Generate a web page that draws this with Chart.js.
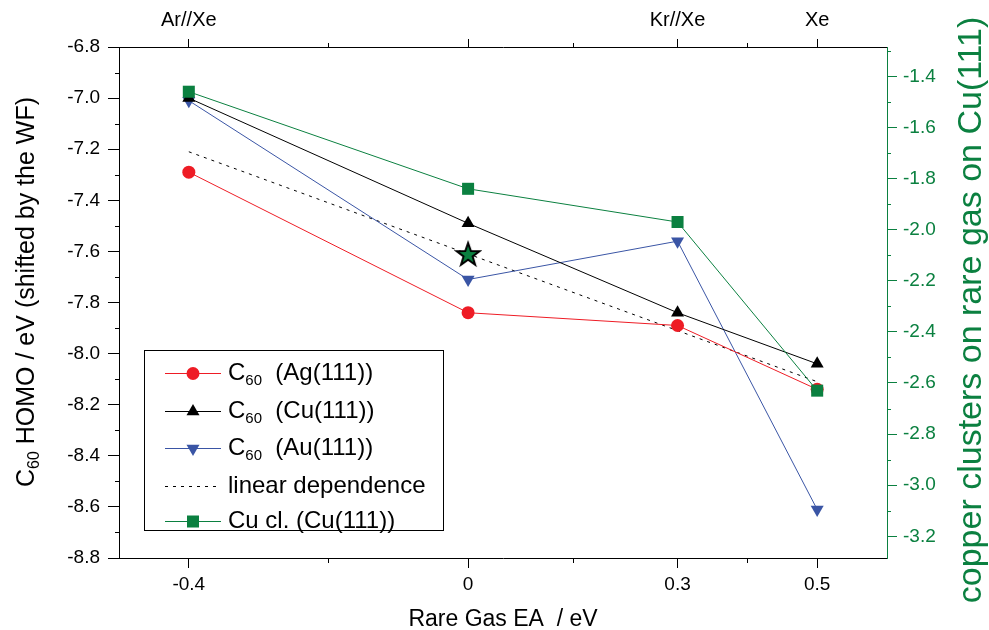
<!DOCTYPE html>
<html>
<head>
<meta charset="utf-8">
<script src="https://cdn.jsdelivr.net/npm/chart.js@4.4.1/dist/chart.umd.min.js"></script>
<style>
  html, body { margin: 0; padding: 0; background: #ffffff; }
  #wrap { width: 989px; height: 630px; position: relative; }
</style>
</head>
<body>
<div id="wrap"><canvas id="c"></canvas></div>
<script>
// Rare gas electron affinity (eV) and the substrate labels on the top axis
const rareGasEA = [-0.4, 0, 0.3, 0.5];
const topLabels = ['Ar//Xe', '', 'Kr//Xe', 'Xe'];
const minorEA = [-0.2, 0.15, 0.4];

// C60 HOMO positions (eV, shifted by the work function)
const homoAg = [-7.29, -7.84, -7.89, -8.14];
const homoCu = [-7.00, -7.49, -7.84, -8.04];
const homoAu = [-7.01, -7.71, -7.56, -8.61];

// Linear dependence (slope -1) and its value at EA = 0
const linearEA = [-0.4, 0.5];
const linearHomo = [-7.21, -8.11];
const starEA = [0];
const starHomo = [-7.61];

// Copper clusters on rare gas on Cu(111), right axis
const cuClusters = [-1.46, -1.84, -1.97, -2.63];

// Axis ticks
const leftTicks = [-8.8, -8.6, -8.4, -8.2, -8.0, -7.8, -7.6, -7.4, -7.2, -7.0, -6.8];
const leftMinor = [-8.7, -8.5, -8.3, -8.1, -7.9, -7.7, -7.5, -7.3, -7.1, -6.9];
const rightTicks = [-3.2, -3.0, -2.8, -2.6, -2.4, -2.2, -2.0, -1.8, -1.6, -1.4];
const rightMinor = [-3.1, -2.9, -2.7, -2.5, -2.3, -2.1, -1.9, -1.7, -1.5, -1.3];

const RED = '#ee1c25';
const BLACK = '#000000';
const BLUE = '#3a55a5';
const GREEN = '#0b8040';
const FONT = '"Liberation Sans", Arial, sans-serif';

const pts = (xs, ys) => xs.map((x, i) => ({ x: x, y: ys[i] }));

// five-pointed star marker
function makeStar() {
  const c = document.createElement('canvas');
  c.width = 28; c.height = 28;
  const g = c.getContext('2d');
  g.beginPath();
  for (let i = 0; i < 10; i++) {
    const r = i % 2 === 0 ? 12 : 4.8;
    const a = -Math.PI / 2 + i * Math.PI / 5;
    const px = 14 + r * Math.cos(a), py = 15 + r * Math.sin(a);
    if (i === 0) g.moveTo(px, py); else g.lineTo(px, py);
  }
  g.closePath();
  g.fillStyle = GREEN;
  g.fill();
  g.lineWidth = 2;
  g.strokeStyle = BLACK;
  g.lineJoin = 'miter';
  g.stroke();
  return c;
}

function fixedTicks(values) {
  return function (scale) { scale.ticks = values.map(v => ({ value: v })); };
}

// minor ticks on all four sides
const minorTicks = {
  id: 'minorTicks',
  afterDraw(chart) {
    const ctx = chart.ctx, a = chart.chartArea, s = chart.scales;
    ctx.save();
    ctx.lineWidth = 1;
    ctx.strokeStyle = BLACK;
    ctx.beginPath();
    minorEA.forEach(v => {
      const x = Math.round(s.x.getPixelForValue(v)) + 0.5;
      ctx.moveTo(x, a.bottom); ctx.lineTo(x, a.bottom + 5);
      ctx.moveTo(x, a.top); ctx.lineTo(x, a.top - 4);
    });
    leftMinor.forEach(v => {
      const y = Math.round(s.y.getPixelForValue(v)) + 0.5;
      ctx.moveTo(a.left, y); ctx.lineTo(a.left - 4, y);
    });
    ctx.stroke();
    ctx.strokeStyle = GREEN;
    ctx.beginPath();
    rightMinor.forEach(v => {
      const y = Math.round(s.y2.getPixelForValue(v)) + 0.5;
      ctx.moveTo(a.right, y); ctx.lineTo(a.right + 4, y);
    });
    ctx.stroke();
    ctx.restore();
  }
};

function drawMarker(ctx, style, x, y, color) {
  ctx.fillStyle = color;
  ctx.beginPath();
  if (style === 'circle') {
    ctx.arc(x, y, 6.5, 0, Math.PI * 2);
  } else if (style === 'up') {
    ctx.moveTo(x, y - 7.5); ctx.lineTo(x + 6.5, y + 3.75); ctx.lineTo(x - 6.5, y + 3.75);
  } else if (style === 'down') {
    ctx.moveTo(x, y + 7.5); ctx.lineTo(x + 6.5, y - 3.75); ctx.lineTo(x - 6.5, y - 3.75);
  } else if (style === 'square') {
    ctx.rect(x - 6, y - 6, 12, 12);
  }
  ctx.closePath();
  ctx.fill();
}

function drawSubText(ctx, x, y, main, sub, rest, size) {
  ctx.font = size + 'px ' + FONT;
  ctx.fillText(main, x, y);
  x += ctx.measureText(main).width;
  if (sub) {
    const ss = Math.round(size * 0.62);
    ctx.font = ss + 'px ' + FONT;
    ctx.fillText(sub, x, y + size * 0.32);
    x += ctx.measureText(sub).width;
    ctx.font = size + 'px ' + FONT;
  }
  ctx.fillText(rest, x, y);
}

// boxed legend with subscripted labels
const boxLegend = {
  id: 'boxLegend',
  afterDraw(chart) {
    const ctx = chart.ctx, a = chart.chartArea;
    const bx = a.left + 25.5, by = 350.5, bw = 299, bh = 180;
    ctx.save();
    ctx.fillStyle = '#ffffff';
    ctx.fillRect(bx, by, bw, bh);
    ctx.strokeStyle = BLACK;
    ctx.lineWidth = 1;
    ctx.strokeRect(bx, by, bw, bh);
    const rows = [
      { c: RED, m: 'circle', main: 'C', sub: '60', rest: '  (Ag(111))' },
      { c: BLACK, m: 'up', main: 'C', sub: '60', rest: '  (Cu(111))' },
      { c: BLUE, m: 'down', main: 'C', sub: '60', rest: '  (Au(111))' },
      { c: BLACK, m: 'dash', main: 'linear dependence', sub: '', rest: '' },
      { c: GREEN, m: 'square', main: 'Cu cl. (Cu(111))', sub: '', rest: '' }
    ];
    const ys = [373, 411, 448, 486, 521];
    rows.forEach((r, i) => {
      const y = ys[i];
      ctx.strokeStyle = r.c;
      ctx.lineWidth = 1;
      ctx.setLineDash(r.m === 'dash' ? [3, 5] : []);
      ctx.beginPath();
      ctx.moveTo(165, y + 0.5); ctx.lineTo(221, y + 0.5);
      ctx.stroke();
      ctx.setLineDash([]);
      if (r.m !== 'dash') drawMarker(ctx, r.m, 193, y + 0.5, r.c);
      ctx.fillStyle = BLACK;
      ctx.textBaseline = 'middle';
      ctx.textAlign = 'left';
      drawSubText(ctx, 228, y, r.main, r.sub, r.rest, 24);
    });
    ctx.restore();
  }
};

// axis titles
const axisTitles = {
  id: 'axisTitles',
  afterDraw(chart) {
    const ctx = chart.ctx, a = chart.chartArea;
    ctx.save();
    ctx.textBaseline = 'middle';
    // bottom
    ctx.fillStyle = BLACK;
    ctx.textAlign = 'center';
    ctx.font = '23px ' + FONT;
    ctx.fillText('Rare Gas EA  / eV', (a.left + a.right) / 2, 620);
    // left, with subscript
    ctx.save();
    ctx.translate(27, 292);
    ctx.rotate(-Math.PI / 2);
    const size = 25;
    ctx.font = size + 'px ' + FONT;
    const wMain = ctx.measureText('C').width;
    const wRest = ctx.measureText(' HOMO / eV (shifted by the WF)').width;
    ctx.font = Math.round(size * 0.62) + 'px ' + FONT;
    const wSub = ctx.measureText('60').width;
    ctx.textAlign = 'left';
    drawSubText(ctx, -(wMain + wSub + wRest) / 2, 0, 'C', '60', ' HOMO / eV (shifted by the WF)', size);
    ctx.restore();
    // right
    ctx.save();
    ctx.translate(972, 310);
    ctx.rotate(-Math.PI / 2);
    ctx.fillStyle = GREEN;
    ctx.textAlign = 'center';
    ctx.font = '34px ' + FONT;
    ctx.fillText('copper clusters on rare gas on Cu(111)', 0, 0);
    ctx.restore();
    ctx.restore();
  }
};

const tickFont = { family: FONT, size: 19 };

new Chart(document.getElementById('c'), {
  type: 'line',
  data: {
    datasets: [
      { label: 'star', data: pts(starEA, starHomo), yAxisID: 'y', showLine: false,
        pointStyle: makeStar(), order: 0 },
      { label: 'Cu cl. (Cu(111))', data: pts(rareGasEA, cuClusters), yAxisID: 'y2',
        borderColor: GREEN, backgroundColor: GREEN, borderWidth: 1,
        pointStyle: 'rect', pointRadius: 8.5, pointBorderWidth: 0, order: 1 },
      { label: 'C60 (Ag(111))', data: pts(rareGasEA, homoAg), yAxisID: 'y',
        borderColor: RED, backgroundColor: RED, borderWidth: 1,
        pointStyle: 'circle', pointRadius: 6.5, pointBorderWidth: 0, order: 2 },
      { label: 'C60 (Cu(111))', data: pts(rareGasEA, homoCu), yAxisID: 'y',
        borderColor: BLACK, backgroundColor: BLACK, borderWidth: 1,
        pointStyle: 'triangle', pointRadius: 7.5, pointBorderWidth: 0, order: 3 },
      { label: 'C60 (Au(111))', data: pts(rareGasEA, homoAu), yAxisID: 'y',
        borderColor: BLUE, backgroundColor: BLUE, borderWidth: 1,
        pointStyle: 'triangle', pointRotation: 180, pointRadius: 7.5, pointBorderWidth: 0, order: 4 },
      { label: 'linear dependence', data: pts(linearEA, linearHomo), yAxisID: 'y',
        borderColor: BLACK, borderWidth: 1, borderDash: [3, 5], pointRadius: 0, order: 5 }
    ]
  },
  options: {
    responsive: true,
    maintainAspectRatio: false,
    animation: false,
    events: [],
    layout: { padding: 0 },
    plugins: { legend: { display: false }, tooltip: { enabled: false } },
    elements: { line: { tension: 0 } },
    scales: {
      x: {
        type: 'linear', position: 'bottom', min: -0.5, max: 0.6,
        afterBuildTicks: fixedTicks(rareGasEA),
        afterFit: s => { s.height = 72; },
        border: { display: true, color: BLACK, width: 1 },
        grid: { drawOnChartArea: false, drawTicks: true, tickLength: 10, color: BLACK },
        ticks: { font: tickFont, color: BLACK, padding: 5, autoSkip: false, maxRotation: 0,
                 callback: v => String(v) }
      },
      x2: {
        type: 'linear', position: 'top', min: -0.5, max: 0.6,
        afterBuildTicks: fixedTicks(rareGasEA),
        afterFit: s => { s.height = 47; },
        border: { display: true, color: BLACK, width: 1 },
        grid: { drawOnChartArea: false, drawTicks: true, tickLength: 8, color: BLACK },
        ticks: { font: { family: FONT, size: 20 }, color: BLACK, padding: 7, autoSkip: false, maxRotation: 0,
                 callback: v => topLabels[rareGasEA.indexOf(v)] || '' }
      },
      y: {
        type: 'linear', position: 'left', min: -8.8, max: -6.8,
        afterBuildTicks: fixedTicks(leftTicks),
        afterFit: s => { s.width = 119; },
        border: { display: true, color: BLACK, width: 1 },
        grid: { drawOnChartArea: false, drawTicks: true, tickLength: 11, color: BLACK },
        ticks: { font: tickFont, color: BLACK, padding: 8, callback: v => v.toFixed(1) }
      },
      y2: {
        type: 'linear', position: 'right', min: -3.285, max: -1.285,
        afterBuildTicks: fixedTicks(rightTicks),
        afterFit: s => { s.width = 102; },
        border: { display: true, color: GREEN, width: 1 },
        grid: { drawOnChartArea: false, drawTicks: true, tickLength: 10, color: GREEN },
        ticks: { font: tickFont, color: GREEN, padding: 6, callback: v => v.toFixed(1) }
      }
    }
  },
  plugins: [minorTicks, boxLegend, axisTitles]
});
</script>
</body>
</html>
